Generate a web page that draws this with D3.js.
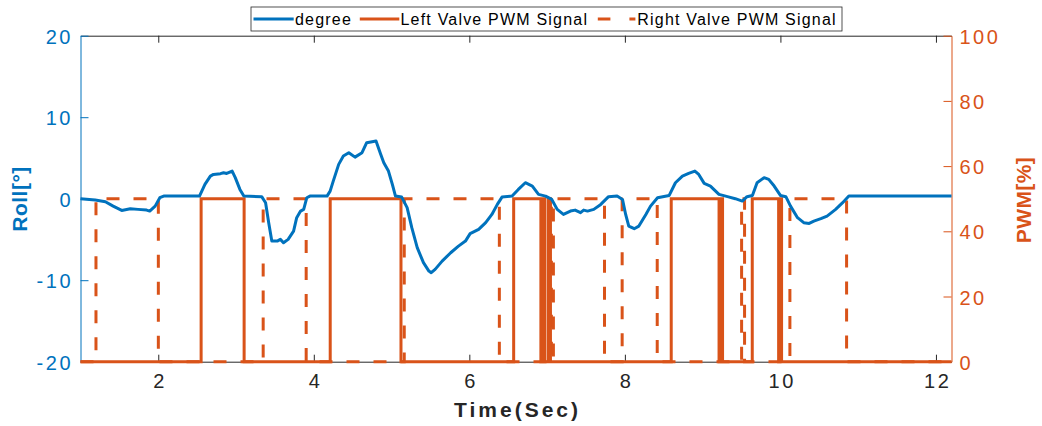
<!DOCTYPE html>
<html>
<head>
<meta charset="utf-8">
<script src="https://cdn.jsdelivr.net/npm/d3@7"></script>
<style>
  body { margin: 0; background: #fff; }
  svg { display: block; font-family: "Liberation Sans", Arial, Helvetica, sans-serif; }
</style>
</head>
<body>
<svg id="chart" width="1042" height="426"></svg>
<script>
// Roll angle trace (time in seconds, roll in degrees)
const timeSec = [
  1.00, 1.19, 1.32, 1.42, 1.53, 1.64, 1.74, 1.85, 1.89, 1.96,
  2.02, 2.07, 2.53, 2.60, 2.67, 2.71, 2.80, 2.84, 2.88, 2.95,
  2.99, 3.05, 3.10, 3.33, 3.38, 3.42, 3.46, 3.53, 3.57, 3.61,
  3.67, 3.74, 3.78, 3.83, 3.87, 3.91, 3.95, 4.17, 4.21, 4.25,
  4.32, 4.38, 4.45, 4.53, 4.62, 4.68, 4.75, 4.80, 4.86, 4.90,
  4.96, 5.01, 5.05, 5.13, 5.20, 5.26, 5.33, 5.41, 5.48, 5.51,
  5.56, 5.65, 5.76, 5.86, 5.95, 6.01, 6.12, 6.21, 6.29, 6.36,
  6.42, 6.55, 6.63, 6.72, 6.81, 6.89, 6.98, 7.06, 7.13, 7.21,
  7.30, 7.36, 7.43, 7.47, 7.52, 7.60, 7.69, 7.79, 7.90, 7.97,
  8.01, 8.05, 8.12, 8.18, 8.27, 8.33, 8.42, 8.57, 8.65, 8.74,
  8.82, 8.90, 8.95, 9.02, 9.10, 9.21, 9.32, 9.42, 9.51, 9.57,
  9.64, 9.70, 9.79, 9.85, 9.92, 10.00, 10.07, 10.13, 10.22, 10.30,
  10.37, 10.43, 10.52, 10.60, 10.71, 10.80, 10.88, 12.20
];
const rollDeg = [
  0.00, -0.17, -0.37, -0.91, -1.44, -1.23, -1.31, -1.40, -1.52, -0.91,
  0.12, 0.32, 0.32, 1.75, 2.77, 2.98, 3.07, 3.19, 3.10, 3.39,
  2.58, 1.14, 0.32, 0.25, -0.49, -2.94, -5.20, -5.20, -4.99, -5.40,
  -4.99, -3.98, -2.33, -1.52, -1.31, 0.12, 0.32, 0.32, 0.93, 2.16,
  4.21, 5.23, 5.64, 5.10, 5.64, 6.87, 6.99, 7.07, 5.44, 4.42,
  3.39, 1.75, 0.32, 0.20, -1.10, -3.56, -6.01, -7.85, -8.88, -9.08,
  -8.67, -7.66, -6.63, -5.82, -5.20, -4.29, -3.77, -2.94, -1.93, -0.70,
  0.20, 0.32, 1.14, 1.96, 1.55, 0.53, 0.32, -0.09, -1.31, -1.93,
  -1.52, -1.40, -1.72, -1.40, -1.52, -1.31, -0.70, 0.25, 0.32, -0.09,
  -1.93, -3.36, -3.68, -3.36, -1.93, -0.91, 0.12, 0.40, 1.96, 2.77,
  3.10, 3.39, 2.98, 1.88, 1.55, 0.53, 0.25, 0.00, -0.29, 0.25,
  0.40, 1.96, 2.58, 2.37, 1.55, 0.40, 0.25, -0.91, -2.33, -2.94,
  -3.03, -2.75, -2.45, -2.13, -1.31, -0.49, 0.32, 0.32
];

// Valve PWM: [start, end] of each interval where the valve is driven
const leftValveOn = [
  [2.551, 3.104], [4.211, 5.121], [6.570, 6.920], [6.946, 6.972],
  [7.017, 7.043], [8.596, 9.211], [9.230, 9.256], [9.638, 9.977],
  [9.996, 10.015]
];
const rightValveOn = [
  [1.199, 2.001], [3.349, 3.902], [5.163, 6.386], [7.036, 7.055],
  [7.081, 7.738], [7.965, 8.416], [9.501, 9.539], [10.122, 10.851]
];
const pwmOnLevel = 50;
const pwmOffLevel = 0;

const timeRange = [1, 12.2];
const xTicks = [2, 4, 6, 8, 10, 12];
const rollTicks = [-20, -10, 0, 10, 20];
const pwmTicks = [0, 20, 40, 60, 80, 100];
const legendLabels = ["degree", "Left Valve PWM Signal", "Right Valve PWM Signal"];

const BLUE = "#0072BD", ORANGE = "#D95319", DARK = "#262626";

const svg = d3.select("#chart");
const box = { left: 80.5, right: 951.5, top: 35.7, bottom: 361.7 };

const x = d3.scaleLinear().domain(timeRange).range([box.left, box.right]);
const yRoll = d3.scaleLinear().domain([-20, 20]).range([box.bottom, box.top]);
const yPwm = d3.scaleLinear().domain([0, 100]).range([box.bottom, box.top]);

// Turn on-intervals into a step trace across the whole time range
function stepTrace(intervals) {
  const pts = [[timeRange[0], pwmOffLevel]];
  intervals.forEach(([a, b]) => {
    pts.push([a, pwmOffLevel], [a, pwmOnLevel], [b, pwmOnLevel], [b, pwmOffLevel]);
  });
  pts.push([timeRange[1], pwmOffLevel]);
  return pts;
}

const pwmLine = d3.line().x(d => x(d[0])).y(d => yPwm(d[1]));
const rollLine = d3.line().x(d => x(d[0])).y(d => yRoll(d[1]));

// Plain hyphen-minus labels
const plainFormat = d => String(d);

// Axes
function styleAxis(g, color) {
  g.select(".domain").attr("stroke", color).attr("stroke-width", 1);
  g.selectAll(".tick line").attr("stroke", color).attr("stroke-width", 1);
  g.selectAll(".tick text").attr("fill", color)
    .style("font-size", "20px").style("letter-spacing", "2.5px");
}

const gx = svg.append("g").attr("transform", `translate(0,${box.bottom})`)
  .call(d3.axisBottom(x).tickValues(xTicks).tickSizeInner(-7).tickSizeOuter(0).tickFormat(plainFormat));
styleAxis(gx, DARK);
gx.selectAll(".tick text").attr("y", 26.5).attr("dy", 0).attr("dx", 1.25);

const gxTop = svg.append("g").attr("transform", `translate(0,${box.top})`)
  .call(d3.axisTop(x).tickValues(xTicks).tickSizeInner(-7).tickSizeOuter(0).tickFormat(""));
styleAxis(gxTop, DARK);

const gyL = svg.append("g").attr("transform", `translate(${box.left},0)`)
  .call(d3.axisLeft(yRoll).tickValues(rollTicks).tickSizeInner(-8).tickSizeOuter(0).tickFormat(plainFormat));
styleAxis(gyL, BLUE);
gyL.selectAll(".tick text").attr("x", -7.5).attr("dy", 0).attr("y", 7.6);

const gyR = svg.append("g").attr("transform", `translate(${box.right},0)`)
  .call(d3.axisRight(yPwm).tickValues(pwmTicks).tickSizeInner(-8).tickSizeOuter(0).tickFormat(plainFormat));
styleAxis(gyR, ORANGE);
gyR.selectAll(".tick text").attr("x", 8).attr("dy", 0).attr("y", 7.6);

// Series: PWM signals below, roll trace on top
svg.append("path").datum(stepTrace(rightValveOn))
  .attr("d", pwmLine).attr("fill", "none").attr("stroke", ORANGE)
  .attr("stroke-width", 3).attr("stroke-dasharray", "13,14");
svg.append("path").datum(stepTrace(leftValveOn))
  .attr("d", pwmLine).attr("fill", "none").attr("stroke", ORANGE)
  .attr("stroke-width", 3);
svg.append("path").datum(timeSec.map((t, i) => [t, rollDeg[i]]))
  .attr("d", rollLine).attr("fill", "none").attr("stroke", BLUE)
  .attr("stroke-width", 3).attr("stroke-linejoin", "round");

// Axis titles
svg.append("text").attr("x", (box.left + box.right) / 2 + 1.5).attr("y", 417)
  .attr("text-anchor", "middle").attr("fill", DARK)
  .style("font-size", "21px").style("font-weight", "bold").style("letter-spacing", "3px")
  .text("Time(Sec)");
svg.append("text").attr("transform", "translate(27,199) rotate(-90)")
  .attr("text-anchor", "middle").attr("fill", BLUE)
  .style("font-size", "21px").style("font-weight", "bold").style("letter-spacing", "0.5px")
  .text("Roll[°]");
svg.append("text").attr("transform", "translate(1031,200) rotate(-90)")
  .attr("text-anchor", "middle").attr("fill", ORANGE)
  .style("font-size", "21px").style("font-weight", "bold").style("letter-spacing", "0.4px")
  .text("PWM[%]");

// Legend
const legend = svg.append("g");
legend.append("rect").attr("x", 251).attr("y", 7).attr("width", 591).attr("height", 24)
  .attr("fill", "#fff").attr("stroke", DARK).attr("stroke-width", 0.8);
const legendItems = [
  { label: legendLabels[0], color: BLUE, dash: null, x0: 253.5, x1: 293.7, tx: 295 },
  { label: legendLabels[1], color: ORANGE, dash: null, x0: 359.8, x1: 399.3, tx: 400.5 },
  { label: legendLabels[2], color: ORANGE, dash: "12.6,19,6", x0: 597.8, x1: 635.4, tx: 637.3 }
];
legendItems.forEach(it => {
  legend.append("line").attr("x1", it.x0).attr("x2", it.x1).attr("y1", 19).attr("y2", 19)
    .attr("stroke", it.color).attr("stroke-width", 3)
    .attr("stroke-dasharray", it.dash);
  legend.append("text").attr("x", it.tx).attr("y", 24.7).attr("fill", "#000")
    .style("font-size", "16px").style("letter-spacing", "1.2px")
    .text(it.label);
});
</script>
</body>
</html>
